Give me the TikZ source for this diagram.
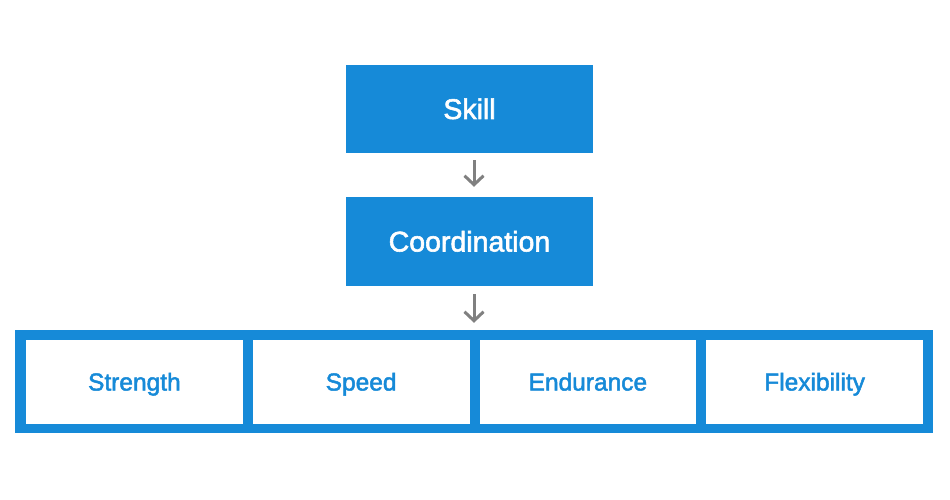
\documentclass[tikz,border=0pt]{standalone}
\usepackage{fontspec}
\setmainfont{Liberation Sans}
\newfontfamily\labelfont[FakeBold=2]{Liberation Sans}
\usetikzlibrary{arrows.meta,positioning}
\definecolor{mainblue}{HTML}{168AD8}
\definecolor{arrgray}{HTML}{808080}
\tikzset{
  topbox/.style={fill=mainblue, draw=none, text=white, minimum width=247pt, font=\labelfont\fontsize{28.5}{30}\selectfont, inner sep=0pt, text height=20pt, text depth=0pt},
  quality/.style={fill=white, draw=none, text=mainblue, minimum width=216.75pt, minimum height=84pt, font=\labelfont\fontsize{24.5}{26}\selectfont, inner sep=0pt, text height=17pt, text depth=0pt},
  arr/.style={draw=arrgray, line width=3pt, -{Straight Barb[length=9pt,width=19pt,line width=3pt]}}
}
\begin{document}
\begin{tikzpicture}[x=1pt,y=-1pt]
\useasboundingbox (0,0) rectangle (950,500);
\node[topbox, minimum height=88pt] (skill) at (469.5,109) {Skill};
\node[topbox, minimum height=89pt] (coord) at (469.5,241.5) {Coordination};
\node[fill=mainblue, draw=none, minimum width=918pt, minimum height=103pt, inner sep=0pt] (frame) at (474,381.5) {};
\node[quality] (strength) at (134.375,382) {Strength};
\node[quality] (speed) at (361.125,382) {Speed};
\node[quality] (endurance) at (587.875,382) {Endurance};
\node[quality] (flex) at (814.625,382) {Flexibility};
\draw[arr] ([yshift=-7pt]skill.south -| frame.north) -- ([yshift=10pt]coord.north -| frame.north);
\draw[arr] ([yshift=-8pt]coord.south -| frame.north) -- ([yshift=7pt]frame.north);
\end{tikzpicture}
\end{document}
